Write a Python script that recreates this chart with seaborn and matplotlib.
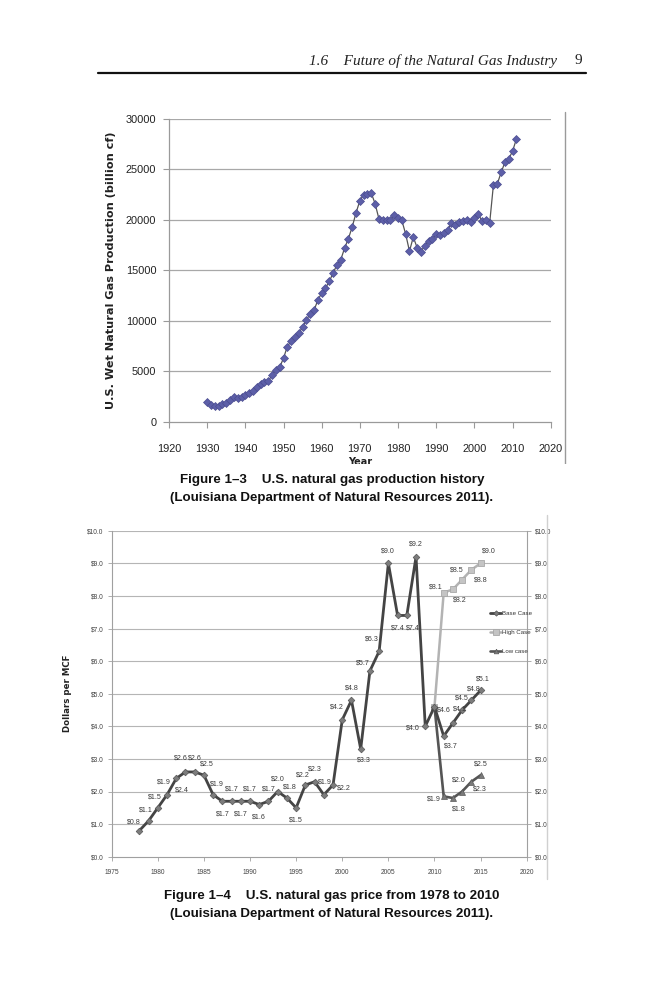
import numpy as np
import pandas as pd
import matplotlib
matplotlib.use("Agg")
import matplotlib.pyplot as plt
import seaborn as sns
from matplotlib.lines import Line2D
from matplotlib.patches import Rectangle

# ---------------- data ----------------
prod_years = list(range(1930, 2012))
prod_values = [1950, 1700, 1600, 1550, 1750, 1900, 2150, 2400, 2300, 2450,
               2650, 2800, 3050, 3400, 3700, 3900, 4050, 4600, 5150, 5400,
               6300, 7450, 8000, 8400, 8750, 9400, 10100, 10700, 11050, 12050,
               12750, 13250, 13900, 14750, 15550, 16050, 17200, 18150, 19300, 20700,
               21900, 22500, 22550, 22650, 21600, 20100, 19950, 20000, 20000, 20450,
               20200, 19950, 18600, 16900, 18300, 17250, 16850, 17450, 17900, 18100,
               18600, 18550, 18700, 19000, 19700, 19500, 19800, 19850, 19950, 19800,
               20200, 20600, 19900, 20000, 19650, 23500, 23550, 24700, 25700, 26050,
               26800, 28000]
prod_yticks = [0, 5000, 10000, 15000, 20000, 25000, 30000]
prod_xticks = [1920, 1930, 1940, 1950, 1960, 1970, 1980, 1990, 2000, 2010, 2020]

base_years = list(range(1978, 2016))
base_values = [0.8, 1.1, 1.5, 1.9, 2.4, 2.6, 2.6, 2.5, 1.9, 1.7,
               1.7, 1.7, 1.7, 1.6, 1.7, 2.0, 1.8, 1.5, 2.2, 2.3,
               1.9, 2.2, 4.2, 4.8, 3.3, 5.7, 6.3, 9.0, 7.4, 7.4,
               9.2, 4.0, 4.6, 3.7, 4.1, 4.5, 4.8, 5.1]
high_years = [2010, 2011, 2012, 2013, 2014, 2015]
high_values = [4.6, 8.1, 8.2, 8.5, 8.8, 9.0]
low_years = [2010, 2011, 2012, 2013, 2014, 2015]
low_values = [4.6, 1.85, 1.8, 2.0, 2.3, 2.5]
price_yticks = [0, 1, 2, 3, 4, 5, 6, 7, 8, 9, 10]
price_xticks = [1975, 1980, 1985, 1990, 1995, 2000, 2005, 2010, 2015, 2020]
series_names = ["Base Case", "High Case", "Low case"]

# label offsets (points) -- styling only
base_off = [(-4, 6), (-2, 8), (-2, 8), (-2, 9), (4, -8), (-3, 10), (0, 10), (2, 8), (3, 8), (0, -9),
            (0, 9), (0, -9), (0, 9), (0, -9), (0, 9), (0, 9), (2, 8), (0, -9), (-2, 7), (0, 9),
            (1, 9), (8, -2), (-4, 9), (0, 9), (2, -8), (-5, 6), (-5, 9), (0, 9), (0, -9), (4, -9),
            (0, 9), (-9, -1), (7, -2), (5, -7), (5, 10), (0, 9), (2, 8), (2, 8)]
high_off = [None, (-6, 4), (5, -8), (-4, 7), (7, -7), (6, 9)]
low_off = [None, (-7, -2), (4, -8), (-2, 8), (6, -5), (0, 8)]

# ---------------- figure ----------------
sns.set_theme(style="white")
SANS = ["Liberation Sans", "DejaVu Sans"]
plt.rcParams["font.family"] = SANS

W, H = 666, 1000
fig = plt.figure(figsize=(W / 100, H / 100), dpi=100)
fig.patch.set_facecolor("white")


def fx(px):
    return px / W


def fy(py):
    return 1 - py / H


# header
fig.text(fx(557), fy(61), "1.6    Future of the Natural Gas Industry", ha="right", va="center",
         family=["Liberation Serif", "DejaVu Serif"], style="italic", fontsize=11, color="#222222")
fig.text(fx(582), fy(61), "9", ha="right", va="center",
         family=["Liberation Serif", "DejaVu Serif"], fontsize=11, color="#222222")
fig.add_artist(Line2D([fx(98), fx(586)], [fy(72.5), fy(72.5)], transform=fig.transFigure,
                      color="#111111", lw=1.6))

# ---------------- top chart ----------------
ax1 = fig.add_axes([fx(169), fy(421.7), fx(550.7 - 169), (421.7 - 119) / H])
df1 = pd.DataFrame({"year": prod_years, "prod": prod_values})
sns.lineplot(data=df1, x="year", y="prod", ax=ax1, color="#555555", lw=0.9,
             marker="D", markersize=3.6, markerfacecolor="#5d5fa8",
             markeredgecolor="#4b4d90", markeredgewidth=0.5)
ax1.set_xlim(1920, 2020)
ax1.set_ylim(0, 30000)
ax1.set_xticks(prod_xticks)
ax1.set_yticks(prod_yticks)
ax1.set_xticklabels([str(t) for t in prod_xticks], fontsize=7.9)
ax1.set_yticklabels([str(t) for t in prod_yticks], fontsize=7.9)
for v in prod_yticks[1:]:
    ax1.axhline(v, color="#a8a8a8", lw=0.9, zorder=0)
for s in ["top", "right"]:
    ax1.spines[s].set_visible(False)
for s in ["left", "bottom"]:
    ax1.spines[s].set_color("#9a9a9a")
    ax1.spines[s].set_linewidth(0.9)
ax1.tick_params(axis="both", which="major", direction="out", length=4, width=0.8,
                color="#9a9a9a", labelcolor="#222222", bottom=True, left=True)
ax1.tick_params(axis="x", pad=12)
ax1.tick_params(axis="y", pad=5)
ax1.set_ylabel("U.S. Wet Natural Gas Production (billion cf)", fontsize=8.1,
               fontweight="bold", family=["DejaVu Sans"], color="#222222", labelpad=7)
ax1.set_xlabel("Year", fontsize=7, fontweight="bold", family=["DejaVu Sans"],
               color="#222222", labelpad=2)

# border line on right of top image
fig.add_artist(Line2D([fx(565), fx(565)], [fy(112), fy(465)], transform=fig.transFigure,
                      color="#9a9a9a", lw=1.0))
# cover lower part of 'Year' label (cropped in original)
fig.add_artist(Rectangle((0, fy(470)), 1, fy(463.5) - fy(470), transform=fig.transFigure,
                         facecolor="white", edgecolor="none", zorder=20))

cap_kw = dict(ha="center", va="center", family=SANS, fontweight="bold",
              fontsize=9.6, color="#111111", zorder=30)
fig.text(fx(332), fy(480), "Figure 1\u20133    U.S. natural gas production history", **cap_kw)
fig.text(fx(332), fy(497.5), "(Louisiana Department of Natural Resources 2011).", **cap_kw)

# ---------------- bottom chart ----------------
ax2 = fig.add_axes([fx(111.7), fy(856.7), fx(526.7 - 111.7), (856.7 - 530.7) / H])
df_base = pd.DataFrame({"year": base_years, "price": base_values})
df_high = pd.DataFrame({"year": high_years, "price": high_values})
df_low = pd.DataFrame({"year": low_years, "price": low_values})

sns.lineplot(data=df_high, x="year", y="price", ax=ax2, color="#b3b3b3", lw=1.8,
             marker="s", markersize=4.8, markerfacecolor="#c4c4c4",
             markeredgecolor="#a8a8a8", markeredgewidth=0.6, label=series_names[1], zorder=3)
sns.lineplot(data=df_low, x="year", y="price", ax=ax2, color="#555555", lw=1.9,
             marker="^", markersize=4.2, markerfacecolor="#7a7a7a",
             markeredgecolor="#5a5a5a", markeredgewidth=0.5, label=series_names[2], zorder=3)
sns.lineplot(data=df_base, x="year", y="price", ax=ax2, color="#444444", lw=2.0,
             marker="D", markersize=3.4, markerfacecolor="#7c7c7c",
             markeredgecolor="#555555", markeredgewidth=0.5, label=series_names[0], zorder=4)

lab_kw = dict(textcoords="offset points", ha="center", va="center", fontsize=5.1,
              family=SANS, color="#3a3a3a", zorder=6)
for x, y, off in zip(base_years, base_values, base_off):
    ax2.annotate(f"${y:.1f}", (x, y), xytext=off, **lab_kw)
for x, y, off in zip(high_years, high_values, high_off):
    if off is not None:
        ax2.annotate(f"${y:.1f}", (x, y), xytext=off, **lab_kw)
for x, y, off in zip(low_years, low_values, low_off):
    if off is not None:
        ax2.annotate(f"${y:.1f}", (x, y), xytext=off, **lab_kw)

ax2.set_xlim(1975, 2020)
ax2.set_ylim(0, 10)
ax2.set_xticks(price_xticks)
ax2.set_yticks(price_yticks)
ax2.set_xticklabels([str(t) for t in price_xticks], fontsize=4.8)
ax2.set_yticklabels([f"${t:.1f}" for t in price_yticks], fontsize=4.8)
for v in price_yticks[1:]:
    ax2.axhline(v, color="#b5b5b5", lw=0.8, zorder=0)
ax2.spines["top"].set_visible(False)
for s in ["left", "right", "bottom"]:
    ax2.spines[s].set_color("#a0a0a0")
    ax2.spines[s].set_linewidth(0.8)
ax2.tick_params(axis="both", direction="out", length=3, width=0.6, color="#a0a0a0",
                labelcolor="#444444", bottom=True, left=True, right=True, labelright=True)
ax2.tick_params(axis="x", pad=6)
ax2.tick_params(axis="y", pad=3)
ax2.set_xlabel("")
ax2.set_ylabel("Dollars per MCF", fontsize=6.2, fontweight="bold",
               family=["DejaVu Sans"], color="#222222", labelpad=11)

handles, labels = ax2.get_legend_handles_labels()
order = [labels.index(n) for n in series_names]
leg = ax2.legend([handles[i] for i in order], [labels[i] for i in order],
                 loc="upper left", bbox_to_anchor=(0.905, 0.765), frameon=False,
                 prop={"family": SANS, "size": 4.4}, labelspacing=2.3,
                 handlelength=1.7, handletextpad=0.2, borderpad=0, markerscale=0.8)
for t in leg.get_texts():
    t.set_color("#333333")

fig.add_artist(Line2D([fx(547), fx(547)], [fy(515), fy(879)], transform=fig.transFigure,
                      color="#d0d0d0", lw=1.0))

fig.text(fx(332), fy(895.5), "Figure 1\u20134    U.S. natural gas price from 1978 to 2010", **cap_kw)
fig.text(fx(332), fy(914), "(Louisiana Department of Natural Resources 2011).", **cap_kw)

fig.savefig("out.png", dpi=100, facecolor="white")
